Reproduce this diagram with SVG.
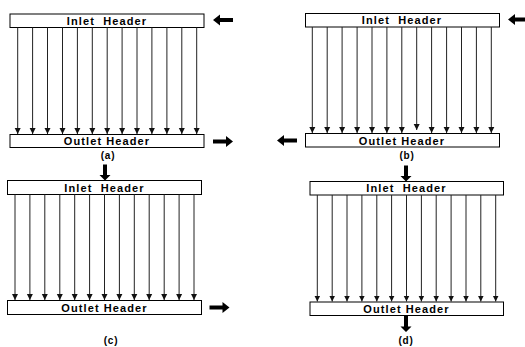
<svg xmlns="http://www.w3.org/2000/svg" width="525" height="347" viewBox="0 0 525 347">
<style>
.hdr{fill:#fff;stroke:#000;stroke-width:1}
.ht{font-family:"Liberation Sans",Arial,sans-serif;font-weight:bold;font-size:11px;letter-spacing:1.1px;text-anchor:middle;fill:#000;white-space:pre}
.lbl{font-family:"Liberation Sans",Arial,sans-serif;font-weight:bold;font-size:10px;letter-spacing:0.8px;text-anchor:middle;fill:#000}
.tube{stroke:#222;stroke-width:1;fill:none;marker-end:url(#tip)}
.big{fill:#000}
</style>
<defs>
<marker id="tip" markerUnits="userSpaceOnUse" markerWidth="6" markerHeight="8" refX="6" refY="3" orient="auto" viewBox="0 0 6 6">
<path d="M0,0 L6,3 L0,6 Z" fill="#111"/>
</marker>
<path id="blk" d="M0,0 L-7,-5.5 L-7,-2 L-20,-2 L-20,2 L-7,2 L-7,5.5 Z"/>
</defs>

<!-- Panel (a) -->
<g id="a-inlet"><rect class="hdr" x="10" y="14" width="194" height="13.5"/><text class="ht" x="107" y="24.5">Inlet  Header</text></g>
<g id="a-outlet"><rect class="hdr" x="10" y="134.5" width="194" height="13"/><text class="ht" x="107" y="145">Outlet Header</text></g>
<g id="a-label"><text class="lbl" x="108" y="159">(a)</text></g>

<!-- Panel (b) -->
<g id="b-inlet"><rect class="hdr" x="305.5" y="13.5" width="194" height="13.5"/><text class="ht" x="402" y="24">Inlet  Header</text></g>
<g id="b-outlet"><rect class="hdr" x="305.5" y="133.5" width="194" height="13.5"/><text class="ht" x="402" y="144.5">Outlet Header</text></g>
<g id="b-label"><text class="lbl" x="407" y="158.5">(b)</text></g>

<!-- Panel (c) -->
<g id="c-inlet"><rect class="hdr" x="7.5" y="180.5" width="194" height="14"/><text class="ht" x="104.5" y="191.5">Inlet  Header</text></g>
<g id="c-outlet"><rect class="hdr" x="7.5" y="300.5" width="194" height="14"/><text class="ht" x="104.5" y="311.5">Outlet Header</text></g>
<g id="c-label"><text class="lbl" x="111" y="343.5">(c)</text></g>

<!-- Panel (d) -->
<g id="d-inlet"><rect class="hdr" x="310" y="181.5" width="193.5" height="13.5"/><text class="ht" x="406.5" y="192">Inlet  Header</text></g>
<g id="d-outlet"><rect class="hdr" x="310" y="302" width="193.5" height="13.5"/><text class="ht" x="406.5" y="312.5">Outlet Header</text></g>
<g id="d-label"><text class="lbl" x="406" y="343.5">(d)</text></g>

<g id="connectors">
<!-- (a) tubes -->
<g>
<line class="tube" x1="17.7" y1="27.5" x2="17.7" y2="134"/>
<line class="tube" x1="32.6" y1="27.5" x2="32.6" y2="134"/>
<line class="tube" x1="47.5" y1="27.5" x2="47.5" y2="134"/>
<line class="tube" x1="62.5" y1="27.5" x2="62.5" y2="134"/>
<line class="tube" x1="77.4" y1="27.5" x2="77.4" y2="134"/>
<line class="tube" x1="92.3" y1="27.5" x2="92.3" y2="134"/>
<line class="tube" x1="107.2" y1="27.5" x2="107.2" y2="134"/>
<line class="tube" x1="122.1" y1="27.5" x2="122.1" y2="134"/>
<line class="tube" x1="137" y1="27.5" x2="137" y2="134"/>
<line class="tube" x1="151.9" y1="27.5" x2="151.9" y2="134"/>
<line class="tube" x1="166.9" y1="27.5" x2="166.9" y2="134"/>
<line class="tube" x1="181.8" y1="27.5" x2="181.8" y2="134"/>
<line class="tube" x1="196.7" y1="27.5" x2="196.7" y2="134"/>
</g>
<use href="#blk" class="big" transform="translate(213,20) rotate(180)"/>
<use href="#blk" class="big" transform="translate(233,141.5)"/>

<!-- (b) tubes -->
<g>
<line class="tube" x1="312.3" y1="27" x2="312.3" y2="133"/>
<line class="tube" x1="327.2" y1="27" x2="327.2" y2="133"/>
<line class="tube" x1="342.1" y1="27" x2="342.1" y2="133"/>
<line class="tube" x1="357.1" y1="27" x2="357.1" y2="133"/>
<line class="tube" x1="372" y1="27" x2="372" y2="133"/>
<line class="tube" x1="386.9" y1="27" x2="386.9" y2="133"/>
<line class="tube" x1="401.8" y1="27" x2="401.8" y2="133"/>
<line class="tube" x1="416.7" y1="27" x2="416.7" y2="130"/>
<line class="tube" x1="431.6" y1="27" x2="431.6" y2="133"/>
<line class="tube" x1="446.6" y1="27" x2="446.6" y2="133"/>
<line class="tube" x1="461.5" y1="27" x2="461.5" y2="133"/>
<line class="tube" x1="476.4" y1="27" x2="476.4" y2="133"/>
<line class="tube" x1="491.3" y1="27" x2="491.3" y2="133"/>
</g>
<use href="#blk" class="big" transform="translate(508,19.5) rotate(180)"/>
<use href="#blk" class="big" transform="translate(277,140.5) rotate(180)"/>

<!-- (c) tubes -->
<g>
<line class="tube" x1="15" y1="194.5" x2="15" y2="300"/>
<line class="tube" x1="29.9" y1="194.5" x2="29.9" y2="300"/>
<line class="tube" x1="44.8" y1="194.5" x2="44.8" y2="300"/>
<line class="tube" x1="59.8" y1="194.5" x2="59.8" y2="300"/>
<line class="tube" x1="74.7" y1="194.5" x2="74.7" y2="300"/>
<line class="tube" x1="89.6" y1="194.5" x2="89.6" y2="300"/>
<line class="tube" x1="104.5" y1="194.5" x2="104.5" y2="300"/>
<line class="tube" x1="119.4" y1="194.5" x2="119.4" y2="300"/>
<line class="tube" x1="134.3" y1="194.5" x2="134.3" y2="300"/>
<line class="tube" x1="149.2" y1="194.5" x2="149.2" y2="300"/>
<line class="tube" x1="164.2" y1="194.5" x2="164.2" y2="300"/>
<line class="tube" x1="179.1" y1="194.5" x2="179.1" y2="300"/>
<line class="tube" x1="194" y1="194.5" x2="194" y2="300"/>
</g>
<use href="#blk" class="big" transform="translate(105,180.5) rotate(90) scale(0.8,1)"/>
<use href="#blk" class="big" transform="translate(229.5,307.5)"/>

<!-- (d) tubes -->
<g>
<line class="tube" x1="317.3" y1="195" x2="317.3" y2="301.5"/>
<line class="tube" x1="332.2" y1="195" x2="332.2" y2="301.5"/>
<line class="tube" x1="347" y1="195" x2="347" y2="301.5"/>
<line class="tube" x1="361.9" y1="195" x2="361.9" y2="301.5"/>
<line class="tube" x1="376.8" y1="195" x2="376.8" y2="301.5"/>
<line class="tube" x1="391.6" y1="195" x2="391.6" y2="301.5"/>
<line class="tube" x1="406.5" y1="195" x2="406.5" y2="301.5"/>
<line class="tube" x1="421.4" y1="195" x2="421.4" y2="301.5"/>
<line class="tube" x1="436.2" y1="195" x2="436.2" y2="301.5"/>
<line class="tube" x1="451.1" y1="195" x2="451.1" y2="301.5"/>
<line class="tube" x1="466" y1="195" x2="466" y2="301.5"/>
<line class="tube" x1="480.8" y1="195" x2="480.8" y2="301.5"/>
<line class="tube" x1="495.7" y1="195" x2="495.7" y2="301.5"/>
</g>
<use href="#blk" class="big" transform="translate(406,181.5) rotate(90) scale(0.8,1)"/>
<use href="#blk" class="big" transform="translate(406,332) rotate(90) scale(0.8,1)"/>
</g>
</svg>
